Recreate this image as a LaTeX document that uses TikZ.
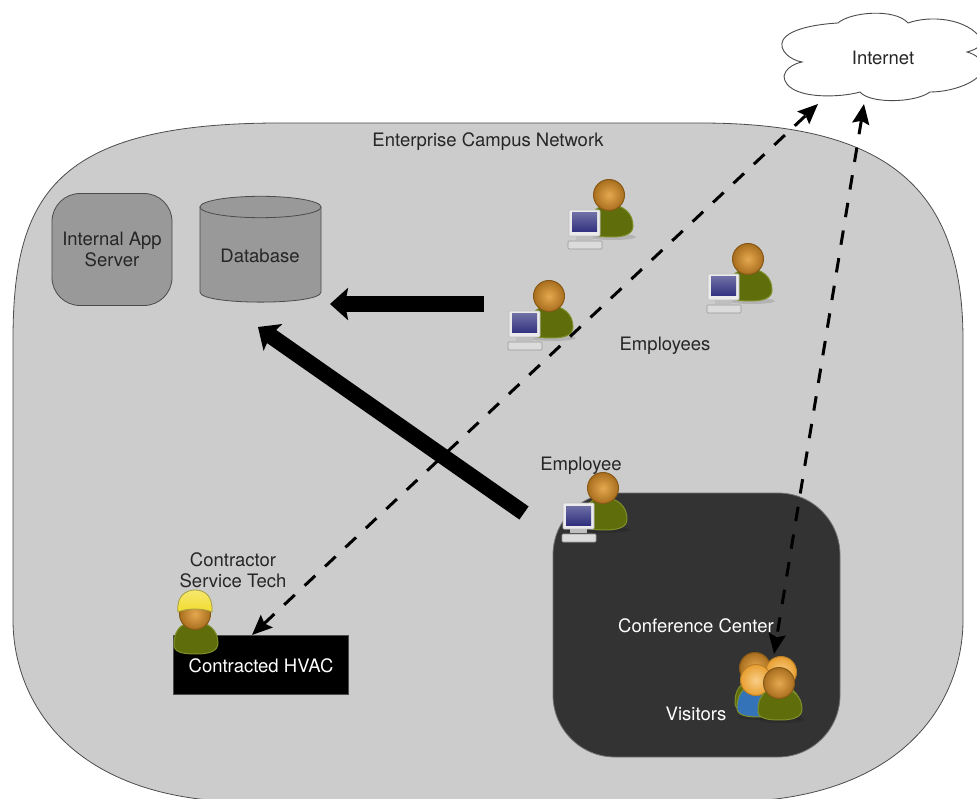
\documentclass[tikz,border=0pt]{standalone}
\usepackage{fontspec}
\setmainfont{TeX Gyre Heros}
\usetikzlibrary{arrows.meta, positioning}

\definecolor{campusgray}{HTML}{CCCCCC}
\definecolor{boxgray}{HTML}{999999}
\definecolor{roomgray}{HTML}{333333}
\definecolor{bodygreen}{HTML}{5F6E0A}
\definecolor{rimgreen}{HTML}{7F8F2A}
\definecolor{skinlight}{HTML}{E5A850}
\definecolor{skindark}{HTML}{A96F1E}
\definecolor{skinpale}{HTML}{F8CE88}
\definecolor{skinorange}{HTML}{E89F30}
\definecolor{screenblue}{HTML}{30307F}
\definecolor{shirtblue}{HTML}{3573B8}
\definecolor{hatyellow}{HTML}{F2DC2F}

\tikzset{
	caption/.style={font=\fontsize{18.5}{21}\selectfont, text=black!85, align=center},
	whitecaption/.style={caption, text=white},
	region/.style={draw=black!70, inner sep=0pt, outer sep=0pt},
	dashlink/.style={{Stealth[length=20pt,width=17pt,inset=3pt]}-{Stealth[length=20pt,width=17pt,inset=3pt]}, line width=3pt, dash pattern=on 14.5pt off 13.5pt},
	fatlink/.style={-{Stealth[length=18pt,width=32pt,inset=3pt]}, line width=16pt},
	pics/head/.style 2 args={code={
		\shade[draw=#2!80!black, line width=1pt, inner color=#1, outer color=#2] (0,0) circle (15.5);
	}},
	pics/torso/.style={code={
		\fill[black, opacity=0.12] (4,42) ellipse (23 and 3);
		\draw[draw=rimgreen, fill=#1, line width=1pt] (-20,33) .. controls (-20,15) and (-10,10) .. (2,10) .. controls (14,10) and (24,18) .. (24,31) .. controls (24,39) and (16,42) .. (2,42) .. controls (-12,42) and (-20,40) .. (-20,33) -- cycle;
	}},
	pics/terminal/.style={code={
		% Screen
		\draw[draw=black!25, fill=white!92!black, rounded corners=1pt, line width=0.6pt] (-40,15) rectangle (-9,41);
		\shade[top color=screenblue!70!white, bottom color=screenblue] (-37,18) rectangle (-12,37);
		% Base and keyboard
		\fill[black!25] (-33,41) rectangle (-16,45);
		\draw[draw=black!40, fill=black!14, rounded corners=1pt, line width=0.6pt] (-41,46) rectangle (-7,54);
	}},
	pics/employee/.style={code={
		\pic {torso=bodygreen};
		\pic {head={skinlight}{skindark}};
		\pic {terminal};
	}}
}

\begin{document}
\begin{tikzpicture}[x=1pt,y=-1pt,>=stealth,thick]

		\clip (0,0) rectangle (977,799);

		%% Nodes
		\begin{scope}
			\draw[draw=black!70, fill=campusgray] (13,340)
				.. controls (13,195) and (55,123) .. (280,123) -- (700,123)
				.. controls (890,123) and (963,190) .. (963,340) -- (963,620)
				.. controls (963,700) and (905,802) .. (725,802) -- (250,802)
				.. controls (70,802) and (13,700) .. (13,620) -- cycle;
			\node (campus_title) at (488,142) [caption] {Enterprise Campus Network};

			\node (conference) at (696.5,625) [region, draw=black!55, fill=roomgray, rounded corners=62pt, minimum width=287pt, minimum height=264pt] {};
			\node (hvac) at (261,664.5) [region, fill=black, minimum width=175pt, minimum height=59pt] {};
		\end{scope}

		% Servers
		\begin{scope}
			\node (app_server) at (112,249.5) [region, fill=boxgray, rounded corners=28pt, minimum width=120pt, minimum height=112pt, caption] {Internal App\\Server};
			\draw[draw=black!70, fill=boxgray] (200,207) -- (200,292) .. controls (200,305.5) and (321,305.5) .. (321,292) -- (321,207) -- cycle;
			\draw[draw=black!70, fill=boxgray] (260.5,207) ellipse (60.5 and 10.7);
			\node (database) at (260,255.5) [caption] {Database};
		\end{scope}

		% Cloud
		\begin{scope}
			\draw[draw=black!70, fill=white, line width=0.9pt] (838,23)
				.. controls (850,12) and (895,8) .. (908,23)
				.. controls (930,15) and (968,18) .. (982,40)
				.. controls (982,46) and (975,50) .. (967,52)
				.. controls (975,54) and (985,60) .. (982,72)
				.. controls (975,84) and (950,92) .. (930,92)
				.. controls (915,103) and (870,104) .. (860,92)
				.. controls (840,98) and (785,100) .. (784,76)
				.. controls (785,70) and (792,64) .. (802,62)
				.. controls (790,60) and (778,50) .. (783,40)
				.. controls (790,28) and (820,24) .. (838,23) -- cycle;
			\node (internet) at (883,58) [caption] {Internet};
		\end{scope}

		% Employees
		\begin{scope}
			\pic (worker_a) at (609,195) {employee};
			\pic (worker_b) at (748,259) {employee};
			\pic (worker_c) at (549,296) {employee};
			\node (employees_title) at (665,346) [caption] {Employees};
			\node (employee_title) at (581,466) [caption] {Employee};
			\pic (worker_d) at (603,488) {employee};
		\end{scope}

		% Contractor
		\begin{scope}
			\pic (tech_body) at (194,612) {torso=bodygreen};
			\pic (tech_head) at (195,614) {head={skinlight}{skindark}};
			\shade[draw=yellow!60!black, top color=hatyellow!70!white, bottom color=hatyellow, line width=0.8pt] (178,612) .. controls (176,596) and (186,590) .. (195,590) .. controls (205,590) and (213,596) .. (212,612) .. controls (203,608) and (187,608) .. (178,612) -- cycle;
			\node (tech_title) at (233,570) [caption] {Contractor\\Service Tech};
			\node (hvac_title) at (261,666) [whitecaption] {Contracted HVAC};
		\end{scope}

		% Visitors
		\begin{scope}
			\node (conference_title) at (696,625.5) [whitecaption] {Conference Center};
			\node (visitors_title) at (696,713.5) [whitecaption] {Visitors};
			\pic (guest_a) at (755,670) {torso=bodygreen};
			\pic (guest_a_head) at (755,668) {head={skinlight}{skindark}};
			\pic (guest_b_head) at (781,672) {head={skinpale}{skinorange}};
			\pic (guest_e) at (776,675) {torso=shirtblue};
			\pic (guest_c) at (757,675) {torso=shirtblue};
			\pic (guest_c_head) at (756,680) {head={skinpale}{skinorange}};
			\pic (guest_d) at (778,678) {torso=bodygreen};
			\pic (guest_d_head) at (779,683) {head={skinlight}{skindark}};
		\end{scope}

		\coordinate (hvac_end) at (252,635);
		\coordinate (cloud_left) at (818,104);
		\coordinate (cloud_right) at (864,104);
		\coordinate (guest_end) at (774,654);
		\coordinate (worker_end) at (484,304);
		\coordinate (database_end) at (330,304);
		\coordinate (worker_d_end) at (524,513);
		\coordinate (server_end) at (258,327);

		%% Edges
		\draw[dashlink] (hvac_end) -- (cloud_left);
		\draw[dashlink] (cloud_right) -- (guest_end);
		\draw[fatlink] (worker_end) -- (database_end);
		\draw[fatlink] (worker_d_end) -- (server_end);
	\end{tikzpicture}
\end{document}
